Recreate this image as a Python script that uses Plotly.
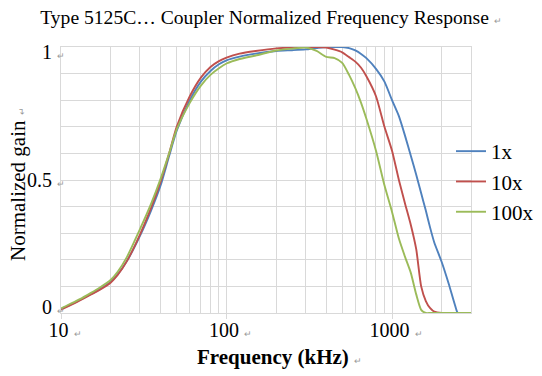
import plotly.graph_objects as go

# ---- data ----
freq_khz = [10, 11, 12, 13, 15, 17, 20, 22, 25, 30, 35, 40, 45, 50, 60, 70, 80, 90, 100,
            120, 150, 200, 250, 300, 350, 400, 450, 500, 550, 600, 650, 700, 800, 900,
            1000, 1100, 1200, 1300, 1400, 1500, 1600, 1700, 1800, 2000, 2200, 2400, 2500,
            3000]

gain_1x = [0.015, 0.027, 0.038, 0.049, 0.070, 0.088, 0.118, 0.145, 0.195, 0.290, 0.385,
           0.480, 0.590, 0.685, 0.800, 0.870, 0.910, 0.935, 0.950, 0.964, 0.975, 0.985,
           0.988, 0.991, 0.996, 1.000, 1.000, 1.000, 0.996, 0.987, 0.974, 0.958, 0.918,
           0.870, 0.800, 0.740, 0.665, 0.590, 0.520, 0.450, 0.385, 0.320, 0.265, 0.190,
           0.110, 0.030, 0.000, 0.000]

gain_10x = [0.013, 0.025, 0.036, 0.047, 0.068, 0.086, 0.115, 0.143, 0.195, 0.295, 0.395,
            0.495, 0.600, 0.700, 0.815, 0.885, 0.925, 0.947, 0.960, 0.975, 0.985, 0.995,
            0.998, 1.000, 1.000, 0.998, 0.990, 0.980, 0.962, 0.945, 0.922, 0.890, 0.815,
            0.700, 0.610, 0.500, 0.410, 0.330, 0.240, 0.100, 0.045, 0.018, 0.005, 0.000,
            0.000, 0.000, 0.000, 0.000]

gain_100x = [0.017, 0.030, 0.041, 0.052, 0.074, 0.094, 0.125, 0.155, 0.210, 0.315, 0.410,
             0.505, 0.600, 0.690, 0.790, 0.855, 0.895, 0.920, 0.938, 0.955, 0.968, 0.987,
             0.994, 0.998, 0.985, 0.963, 0.958, 0.940, 0.895, 0.845, 0.790, 0.730, 0.610,
             0.480, 0.380, 0.280, 0.210, 0.150, 0.070, 0.012, 0.000, 0.000, 0.000, 0.000,
             0.000, 0.000, 0.000, 0.000]

series_names = ["1x", "10x", "100x"]
series_values = [gain_1x, gain_10x, gain_100x]
series_colors = ["#4F81BD", "#C0504D", "#9BBB59"]

x_tick_vals = [10, 100, 1000]
x_tick_labels = ["10", "100", "1000"]
y_tick_vals = [0, 0.5, 1]
y_tick_labels = ["0", "0.5", "1"]

# ---- styling ----
SERIF = "Liberation Serif, Times New Roman, serif"
ARROW = "<span style='font-size:9px;color:#9a9a9a'>\u21b5</span>"
GRID = "#d9d9d9"

fig = go.Figure()
for name, vals, col in zip(series_names, series_values, series_colors):
    fig.add_trace(go.Scatter(
        x=freq_khz, y=vals, name=name, mode="lines",
        line=dict(color=col, width=1.9, shape="spline", smoothing=0.6),
    ))

minor_x = [20, 30, 40, 50, 60, 70, 80, 90, 200, 300, 400, 500, 600, 700, 800, 900, 2000]

L, R, T, B = 61, 471, 47, 313   # plot-area pixel box
W = R - L
H = B - T

annotations = [
    dict(text="<b>Frequency (kHz)</b> " + ARROW, xref="paper", yref="paper",
         x=(279 - L) / W, y=-(357 - B) / H, xanchor="center", yanchor="middle",
         showarrow=False, font=dict(family=SERIF, size=21, color="black")),
    dict(text="Normalized gain " + ARROW, xref="paper", yref="paper",
         x=-(L - 18) / W, y=(B - 184) / H, xanchor="center", yanchor="middle",
         textangle=-90, showarrow=False,
         font=dict(family=SERIF, size=21, color="black")),
]
# y tick labels (placed on the y scale, nudged as in the reference)
y_label_nudge = [6, 0, -4.5]
for v, t, dy in zip(y_tick_vals, y_tick_labels, y_label_nudge):
    annotations.append(dict(text=t + " " + ARROW, xref="paper", yref="y", x=0, y=v,
                            xanchor="right", yanchor="middle", xshift=6, yshift=dy,
                            showarrow=False, font=dict(family=SERIF, size=20, color="black")))

fig.update_layout(
    width=542, height=376,
    margin=dict(l=L, r=542 - R, t=T, b=376 - B, autoexpand=False),
    paper_bgcolor="white", plot_bgcolor="white",
    font=dict(family=SERIF, color="black", size=20),
    title=dict(
        text="Type 5125C\u2026 Coupler Normalized Frequency Response " + ARROW,
        x=0.5, xref="container", xanchor="center",
        y=1 - 17 / 376, yref="container", yanchor="middle",
        font=dict(family=SERIF, size=19.6, color="black"),
    ),
    xaxis=dict(
        type="log", range=[1, 3.4771],
        tickmode="array", tickvals=x_tick_vals,
        ticktext=[t + " " + ARROW for t in x_tick_labels],
        showgrid=True, gridcolor=GRID, gridwidth=1,
        minor=dict(tickmode="array", tickvals=minor_x, showgrid=True,
                   gridcolor=GRID, gridwidth=1, ticks=""),
        showline=True, linecolor=GRID, mirror=True,
        ticks="outside", ticklen=5, tickcolor=GRID,
        ticklabelstandoff=-6, ticklabelshift=4,
        tickfont=dict(family=SERIF, size=20),
        zeroline=False,
    ),
    yaxis=dict(
        range=[0, 1],
        tickmode="array", tickvals=y_tick_vals,
        showticklabels=False,
        showgrid=True, gridcolor=GRID, gridwidth=1,
        minor=dict(dtick=0.1, showgrid=True, gridcolor=GRID, gridwidth=1, ticks=""),
        showline=True, linecolor=GRID, mirror=True,
        ticks="",
        zeroline=False,
    ),
    legend=dict(
        x=(451 - L) / W, xanchor="left",
        y=(B - 131) / H, yanchor="top",
        bgcolor="rgba(0,0,0,0)", borderwidth=0,
        font=dict(family=SERIF, size=21, color="black"),
        itemwidth=30, tracegroupgap=0,
    ),
    annotations=annotations,
)

fig.write_html("out.html", config={"displayModeBar": False},
               post_script="document.body.style.margin='0';")
